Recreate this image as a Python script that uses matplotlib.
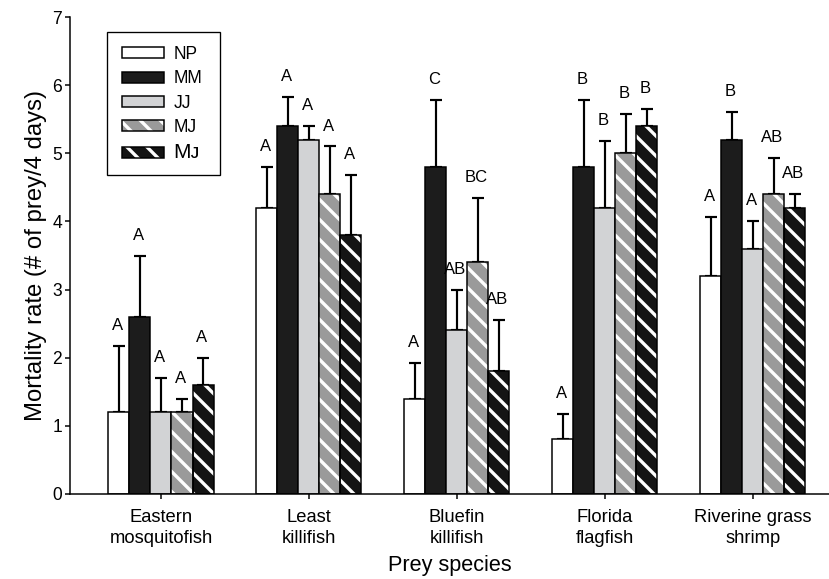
import numpy as np
import matplotlib
matplotlib.use('Agg')
import matplotlib.pyplot as plt
from matplotlib.patches import Patch, Rectangle
from matplotlib.legend_handler import HandlerTuple

plt.rcParams['font.family'] = ['Liberation Sans', 'DejaVu Sans']
plt.rcParams['hatch.linewidth'] = 2.0

species = ['Eastern\nmosquitofish', 'Least\nkillifish', 'Bluefin\nkillifish',
           'Florida\nflagfish', 'Riverine grass\nshrimp']
groups = ['NP', 'MM', 'JJ', 'MJ', 'M\u1d0a']

np_mean = [1.2, 4.2, 1.4, 0.8, 3.2]
mm_mean = [2.6, 5.4, 4.8, 4.8, 5.2]
jj_mean = [1.2, 5.2, 2.4, 4.2, 3.6]
mj_mean = [1.2, 4.4, 3.4, 5.0, 4.4]
mjs_mean = [1.6, 3.8, 1.8, 5.4, 4.2]

np_top = [2.17, 4.8, 1.92, 1.18, 4.07]
mm_top = [3.5, 5.82, 5.78, 5.78, 5.6]
jj_top = [1.7, 5.4, 3.0, 5.18, 4.0]
mj_top = [1.4, 5.1, 4.35, 5.58, 4.93]
mjs_top = [2.0, 4.68, 2.55, 5.65, 4.4]

np_let = ['A', 'A', 'A', 'A', 'A']
mm_let = ['A', 'A', 'C', 'B', 'B']
jj_let = ['A', 'A', 'AB', 'B', 'A']
mj_let = ['A', 'A', 'BC', 'B', 'AB']
mjs_let = ['A', 'A', 'AB', 'B', 'AB']

means = [np_mean, mm_mean, jj_mean, mj_mean, mjs_mean]
tops = [np_top, mm_top, jj_top, mj_top, mjs_top]
letters = [np_let, mm_let, jj_let, mj_let, mjs_let]

# face colour, hatch
styles = [('white', None), ('#1c1c1c', None), ('#d2d3d5', None),
          ('#9a9a9a', '\\\\'), ('#141414', '\\\\')]

fig = plt.figure(figsize=(829 / 120, 579 / 120), dpi=120)
ax = fig.add_axes([70 / 829, 1 - 494 / 579, 1 - 70 / 829, (494 - 17) / 579])

x = np.arange(len(species))
w = 0.142
handles = []
for i in range(5):
    pos = x + (i - 2) * w
    fc, hatch = styles[i]
    m = np.array(means[i])
    t = np.array(tops[i])
    ax.errorbar(pos, m, yerr=[np.zeros_like(m), t - m], fmt='none',
                ecolor='black', elinewidth=1.3, capsize=3.4, capthick=1.3, zorder=1)
    if hatch:
        ax.bar(pos, m, w, color=fc, edgecolor='white', hatch=hatch, linewidth=0, zorder=2)
        ax.bar(pos, m, w, fill=False, edgecolor='black', linewidth=0.9, zorder=3)
        h = (Patch(facecolor=fc, edgecolor='white', hatch=hatch, linewidth=0),
             Patch(fill=False, edgecolor='black', linewidth=0.9))
    else:
        ax.bar(pos, m, w, color=fc, edgecolor='black', linewidth=0.9, zorder=2)
        h = Patch(facecolor=fc, edgecolor='black', linewidth=0.9)
    handles.append(h)
    for xi, ti, lab in zip(pos, t, letters[i]):
        ax.text(xi - 0.01, ti + 0.3, lab, ha='center', va='center', fontsize=10)

ax.set_xlim(-0.615, 4.515)
ax.set_ylim(0, 7)
ax.set_yticks(range(8))
ax.set_xticks(x)
ax.set_xticklabels(species, fontsize=11, linespacing=1.3)
ax.tick_params(axis='y', labelsize=10.5, direction='out', length=2.8, width=0.9, pad=2)
ax.tick_params(axis='x', direction='out', length=3, width=0.9, pad=6)
ax.spines['top'].set_visible(False)
ax.spines['right'].set_visible(False)
for s in ['left', 'bottom']:
    ax.spines[s].set_linewidth(0.9)
ax.set_ylabel('Mortality rate (# of prey/4 days)', fontsize=14.3, labelpad=3)
ax.set_xlabel('Prey species', fontsize=13, labelpad=5)

leg = ax.legend(handles, groups, handler_map={tuple: HandlerTuple(ndivide=1)},
                loc='upper left', bbox_to_anchor=((122 - 70) / 759, (494 - 46) / 477),
                frameon=False, fontsize=10.5, handlelength=2.4, handleheight=0.6,
                handletextpad=0.55, labelspacing=0.42, borderpad=0, borderaxespad=0)
leg.get_texts()[4].set_fontsize(12.5)
fig.add_artist(Rectangle((107 / 829, 1 - 175 / 579), 113 / 829, 143 / 579,
                         transform=fig.transFigure, fill=False, edgecolor='black',
                         linewidth=0.8))

fig.savefig('out.png', dpi=120)
